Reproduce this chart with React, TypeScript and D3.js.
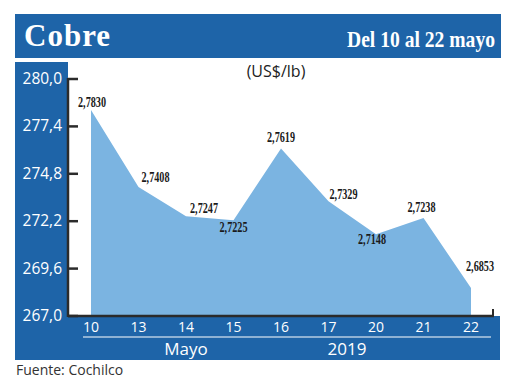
import React from 'react';
import * as d3 from 'd3';

const days = ['10', '13', '14', '15', '16', '17', '20', '21', '22'];
const prices = [2.783, 2.7408, 2.7247, 2.7225, 2.7619, 2.7329, 2.7148, 2.7238, 2.6853];
const priceLabels = ['2,7830', '2,7408', '2,7247', '2,7225', '2,7619', '2,7329', '2,7148', '2,7238', '2,6853'];
const yTicks = [267.0, 269.6, 272.2, 274.8, 277.4, 280.0];

// label offsets from each point (dx, baseline dy)
const labelOffsets: [number, number][] = [
  [1, -3], [17, -5], [18, -3], [0, 12], [0, -6], [15, -2], [-4, 10], [-2, -6], [9, -17],
];

const BLUE = '#1e64a8';
const AREA = '#7bb4e1';
const AXIS = '#2b2b2b';

export default function App() {
  const width = 520;
  const height = 390;

  const x = d3.scalePoint<string>().domain(days).range([91, 471]);
  const y = d3.scaleLinear().domain([267, 280]).range([316, 79]);

  const pts = prices.map((p, i) => ({ day: days[i], v: p * 100 }));
  const area = d3.area<{ day: string; v: number }>()
    .x(d => x(d.day)!)
    .y0(y(267))
    .y1(d => y(d.v));

  const fmt = (v: number) => v.toFixed(1).replace('.', ',');
  const sans = '"Open Sans", "Noto Sans", sans-serif';
  const serif = '"Liberation Serif", "DejaVu Serif", serif';

  return (
    <svg width={width} height={height} style={{ position: 'fixed', left: 0, top: 0, background: '#fff' }}>
      {/* title banner */}
      <rect x={15} y={14} width={486} height={44} fill={BLUE} />
      <text x={24} y={46} fill="#fff" fontFamily={serif} fontWeight={700} fontSize={31} letterSpacing={1}>Cobre</text>
      <text x={495} y={47} fill="#fff" fontFamily={serif} fontWeight={600} fontSize={24} textAnchor="end"
        textLength={148} lengthAdjust="spacingAndGlyphs">Del 10 al 22 mayo</text>

      {/* side and bottom panels */}
      <rect x={15} y={62} width={53} height={298} fill={BLUE} />
      <rect x={15} y={316} width={485} height={44} fill={BLUE} />

      <text x={276} y={77} textAnchor="middle" fontFamily={sans} fontSize={16} fill="#222">(US$/lb)</text>

      {/* area */}
      <path d={area(pts) || ''} fill={AREA} />

      {/* y axis */}
      <line x1={68} x2={68} y1={y(280) - 1} y2={y(267) + 1} stroke={AXIS} strokeWidth={2.5} />
      {yTicks.map(t => (
        <g key={t}>
          <line x1={68} x2={78} y1={y(t)} y2={y(t)} stroke={AXIS} strokeWidth={2.5} />
          <text x={62} y={y(t) + 5} textAnchor="end" fill="#fff" fontFamily={sans} fontSize={15.5}>{fmt(t)}</text>
        </g>
      ))}

      {/* x axis */}
      <line x1={68} x2={494} y1={y(267)} y2={y(267)} stroke={AXIS} strokeWidth={2.5} />
      <line x1={493} x2={493} y1={y(267)} y2={y(267) - 7} stroke={AXIS} strokeWidth={2} />
      {days.map(d => (
        <text key={d} x={x(d)} y={332} textAnchor="middle" fill="#fff" fontFamily={sans} fontSize={14}>{d}</text>
      ))}
      <line x1={83} x2={491} y1={337} y2={337} stroke="#fff" strokeWidth={1.2} />
      <text x={186} y={355} textAnchor="middle" fill="#fff" fontFamily={sans} fontSize={17}>Mayo</text>
      <text x={347} y={355} textAnchor="middle" fill="#fff" fontFamily={sans} fontSize={17}>2019</text>

      {/* value labels */}
      {pts.map((p, i) => (
        <text key={i} x={x(p.day)! + labelOffsets[i][0]} y={y(p.v) + labelOffsets[i][1]}
          textAnchor="middle" fontFamily={serif} fontWeight={700} fontSize={15} fill="#1a1a1a"
          textLength={28} lengthAdjust="spacingAndGlyphs">{priceLabels[i]}</text>
      ))}

      <text x={16} y={375} fontFamily={sans} fontSize={14} fill="#333">Fuente: Cochilco</text>
    </svg>
  );
}
